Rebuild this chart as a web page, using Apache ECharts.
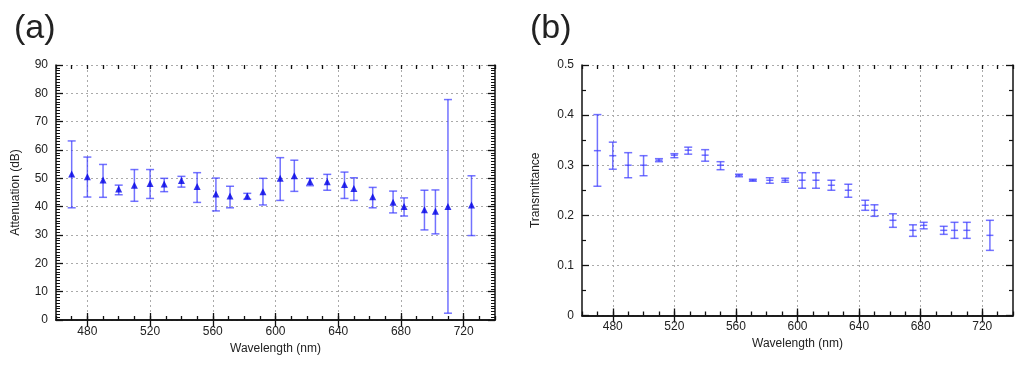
<!DOCTYPE html>
<html>
<head>
<meta charset="utf-8">
<script src="https://cdn.jsdelivr.net/npm/echarts@6/dist/echarts.min.js"></script>
<style>html,body{margin:0;padding:0;background:#fff}#c{width:1024px;height:366px}</style>
</head>
<body>
<div id="c"></div>
<script>
const wavelength = [470,480,490,500,510,520,529,540,550,562,571,582,592,603,612,622,633,644,650,662,675,682,695,702,710,725];
const attenuation = [51.5,50.6,49.4,46.2,47.6,48.2,48.0,49.2,47.1,44.5,43.8,43.8,45.3,50.0,50.9,48.9,48.8,47.8,46.4,43.5,41.6,40.1,38.9,38.4,40.1,40.6];
const attUpper = [63.2,57.5,54.9,47.6,53.1,53.1,50.0,50.7,52.0,50.1,47.2,44.7,50.0,57.3,56.4,50.0,51.4,52.2,50.2,46.8,45.5,43.1,45.8,45.9,77.8,50.9];
const attLower = [39.6,43.4,43.3,44.2,41.9,42.9,45.3,46.9,41.5,38.5,39.6,42.6,40.6,42.2,45.4,47.4,45.8,42.9,42.2,39.6,37.8,36.7,31.8,30.4,2.4,29.8];
const transmittance = [0.329,0.319,0.30,0.30,0.31,0.32,0.33,0.32,0.30,0.28,0.27,0.27,0.27,0.27,0.27,0.26,0.25,0.22,0.21,0.19,0.17,0.18,0.17,0.17,0.17,0.16];
const trUpper = [0.401,0.346,0.325,0.319,0.313,0.323,0.336,0.331,0.307,0.282,0.272,0.275,0.274,0.285,0.285,0.27,0.262,0.23,0.221,0.203,0.181,0.186,0.178,0.186,0.186,0.19];
const trLower = [0.258,0.292,0.275,0.279,0.307,0.315,0.322,0.308,0.291,0.277,0.268,0.264,0.266,0.254,0.254,0.25,0.236,0.21,0.198,0.176,0.158,0.173,0.162,0.154,0.154,0.13];
const xMajorTicks = [480,520,560,600,640,680,720];

const FONT = 'Liberation Sans';
const BAR = 'rgba(60,60,255,0.72)';

const attData = wavelength.map((w,i)=>[w, attenuation[i], attLower[i], attUpper[i]]);
const trData = wavelength.map((w,i)=>[w, transmittance[i], trLower[i], trUpper[i]]);

function errRender(withCenter){
  return function(params, api){
    const x = api.value(0);
    const lo = api.coord([x, api.value(2)]);
    const hi = api.coord([x, api.value(3)]);
    const c = api.coord([x, api.value(1)]);
    const hw = 4;
    const st = {stroke: BAR, lineWidth: 1.5};
    const ch = [
      {type:'line', shape:{x1:lo[0], y1:lo[1], x2:hi[0], y2:hi[1]}, style:st},
      {type:'line', shape:{x1:lo[0]-hw, y1:lo[1], x2:lo[0]+hw, y2:lo[1]}, style:st},
      {type:'line', shape:{x1:hi[0]-hw, y1:hi[1], x2:hi[0]+hw, y2:hi[1]}, style:st}
    ];
    if (withCenter) ch.push({type:'line', shape:{x1:c[0]-3.5, y1:c[1], x2:c[0]+3.5, y2:c[1]}, style:st});
    return {type:'group', children: ch};
  };
}

const axLine = {show:true, lineStyle:{color:'#111', width:1.5}};
const grid = {show:true, lineStyle:{color:'#aaa', type:[2,3], width:1}};
const tickStyle = {color:'#111', width:1.3};

function xAxes(gi){
  const base = {type:'value', gridIndex:gi, min:460, max:740, interval:10};
  return [
    Object.assign({}, base, {position:'bottom',
     axisLine:axLine, axisTick:{inside:true, length:7, customValues:xMajorTicks, lineStyle:tickStyle},
     axisLabel:{color:'#222', fontFamily:FONT, fontSize:12, margin:gi===0?6:5, customValues:xMajorTicks},
     splitLine:grid,
     name:'Wavelength (nm)', nameLocation:'middle', nameGap:gi===0?23:22,
     nameTextStyle:{color:'#222', fontFamily:FONT, fontSize:12}}),
    Object.assign({}, base, {position:'top',
     axisLine:axLine, axisTick:{inside:true, length:7, customValues:xMajorTicks, lineStyle:tickStyle},
     axisLabel:{show:false}, splitLine:{show:false}}),
    Object.assign({}, base, {position:'bottom',
     axisLine:{show:false}, axisTick:{inside:true, length:4, lineStyle:tickStyle},
     axisLabel:{show:false}, splitLine:{show:false}}),
    Object.assign({}, base, {position:'top',
     axisLine:{show:false}, axisTick:{inside:true, length:4, lineStyle:tickStyle},
     axisLabel:{show:false}, splitLine:{show:false}})
  ];
}

const option = {
  animation:false,
  title:[
    {text:'(a)', left:9, top:7, textStyle:{fontFamily:FONT, fontSize:34, fontWeight:'normal', color:'#222'}},
    {text:'(b)', left:525, top:7, textStyle:{fontFamily:FONT, fontSize:34, fontWeight:'normal', color:'#222'}}
  ],
  grid:[
    {left:56, top:65, width:439, height:255, containLabel:false},
    {left:582, top:65, width:431, height:250.5, containLabel:false}
  ],
  xAxis:[...xAxes(0), ...xAxes(1)],
  yAxis:[
    {type:'value', gridIndex:0, position:'left', min:0, max:90, interval:10,
     axisLine:axLine, axisTick:{inside:true, length:7, lineStyle:tickStyle},
     minorTick:{show:true, splitNumber:10, length:4, lineStyle:{color:'#111', width:1}},
     axisLabel:{color:'#222', fontFamily:FONT, fontSize:12, margin:8},
     splitLine:grid,
     name:'Attenuation (dB)', nameLocation:'middle', nameGap:34,
     nameTextStyle:{color:'#222', fontFamily:FONT, fontSize:12}},
    {type:'value', gridIndex:0, position:'right', min:0, max:90, interval:10,
     axisLine:axLine, axisTick:{inside:true, length:7, lineStyle:tickStyle},
     minorTick:{show:true, splitNumber:10, length:4, lineStyle:{color:'#111', width:1}},
     axisLabel:{show:false}, splitLine:{show:false}},
    {type:'value', gridIndex:1, position:'left', min:0, max:0.5, interval:0.1,
     axisLine:axLine, axisTick:{inside:true, length:7, lineStyle:tickStyle},
     minorTick:{show:true, splitNumber:2, length:4, lineStyle:{color:'#111', width:1.2}},
     axisLabel:{color:'#222', fontFamily:FONT, fontSize:12, margin:8},
     splitLine:grid,
     name:'Transmittance', nameLocation:'middle', nameGap:40,
     nameTextStyle:{color:'#222', fontFamily:FONT, fontSize:12}},
    {type:'value', gridIndex:1, position:'right', min:0, max:0.5, interval:0.1,
     axisLine:axLine, axisTick:{inside:true, length:7, lineStyle:tickStyle},
     minorTick:{show:true, splitNumber:2, length:4, lineStyle:{color:'#111', width:1.2}},
     axisLabel:{show:false}, splitLine:{show:false}}
  ],
  series:[
    {type:'custom', xAxisIndex:0, yAxisIndex:0, data:attData, renderItem:errRender(false),
     encode:{x:0, y:[1,2,3]}, z:3},
    {type:'scatter', xAxisIndex:0, yAxisIndex:0, data:attData.map(d=>[d[0],d[1]]),
     symbol:'triangle', symbolSize:7, itemStyle:{color:'#0000e6'}, z:4},
    {type:'custom', xAxisIndex:4, yAxisIndex:2, data:trData, renderItem:errRender(true),
     encode:{x:0, y:[1,2,3]}, z:3}
  ]
};
const chart = echarts.init(document.getElementById('c'), null, {renderer:'canvas'});
chart.setOption(option);
</script>
</body>
</html>
